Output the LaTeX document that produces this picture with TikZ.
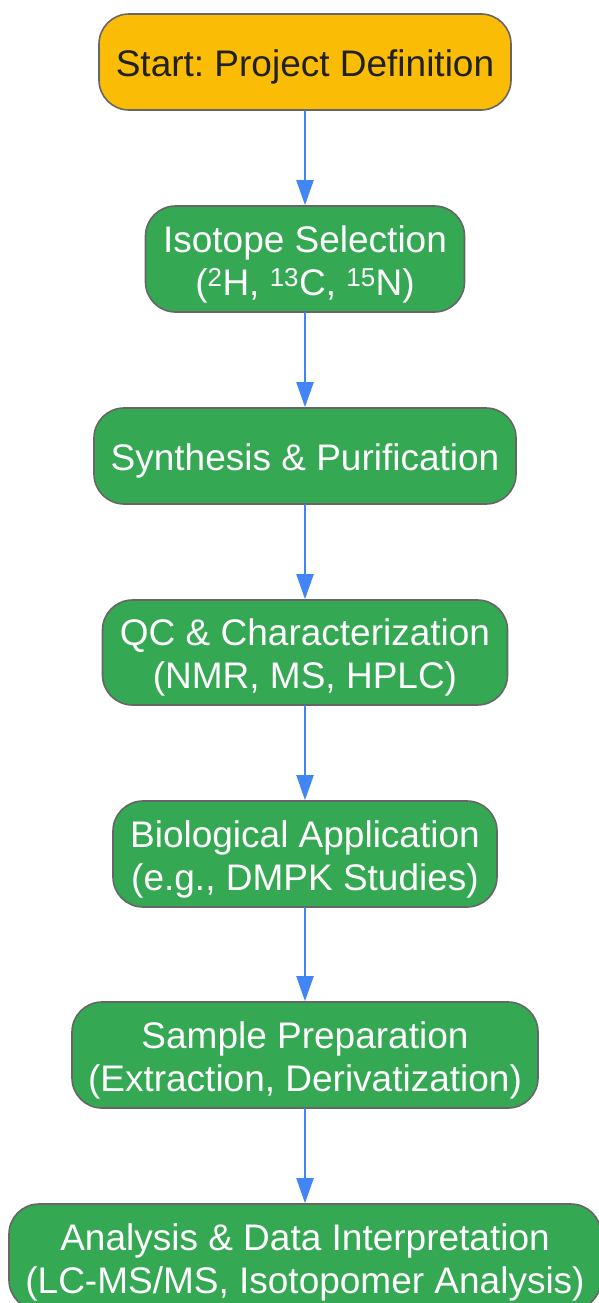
\documentclass[tikz,border=0pt]{standalone}
\usepackage{fontspec}
\setmainfont{Liberation Sans}
\usetikzlibrary{arrows.meta}
\definecolor{gyellow}{HTML}{FBBC05}
\definecolor{ggreen}{HTML}{34A853}
\definecolor{gblue}{HTML}{4285F4}
\definecolor{gborder}{HTML}{666666}
\definecolor{gtext}{HTML}{202124}
\frenchspacing
\begin{document}
\begin{tikzpicture}[x=1pt, y=-1pt, line join=round, line cap=round,
	box/.style={draw=gborder, line width=1.6pt, rounded corners=30pt, align=center, inner sep=0pt,
		font=\fontsize{37}{43}\selectfont, text=white, fill=ggreen,
		execute at begin node={\rule{0pt}{#1}}},
	box/.default=37pt,
	flow/.style={draw=gblue, line width=2pt, -{Triangle[length=25pt,width=17pt]}}]
	\useasboundingbox (0,0) rectangle (598,1303);
	\node[box, fill=gyellow, text=gtext, minimum width=412pt, minimum height=96pt] (start) at (305,62) {Start: Project Definition};
	\node[box=80pt, minimum width=319pt, minimum height=106pt] (iso) at (305,259) {Isotope Selection\\(\textsuperscript{2}H, \textsuperscript{13}C, \textsuperscript{15}N)};
	\node[box, minimum width=422pt, minimum height=96pt] (syn) at (305,456) {Synthesis \& Purification};
	\node[box=80pt, minimum width=405pt, minimum height=105pt] (qc) at (305,652.5) {QC \& Characterization\\(NMR, MS, HPLC)};
	\node[box=80pt, minimum width=384pt, minimum height=106pt] (bio) at (305,854) {Biological Application\\(e.g., DMPK Studies)};
	\node[box=80pt, minimum width=466pt, minimum height=106pt] (prep) at (305,1055) {Sample Preparation\\(Extraction, Derivatization)};
	\node[box=80pt, minimum width=592pt, minimum height=106pt] (ana) at (305,1257) {Analysis \& Data Interpretation\\(LC-MS/MS, Isotopomer Analysis)};
	\foreach \a/\b in {start/iso,iso/syn,syn/qc,qc/bio,bio/prep,prep/ana} \draw[flow] (\a) -- (\b);
\end{tikzpicture}
\end{document}
